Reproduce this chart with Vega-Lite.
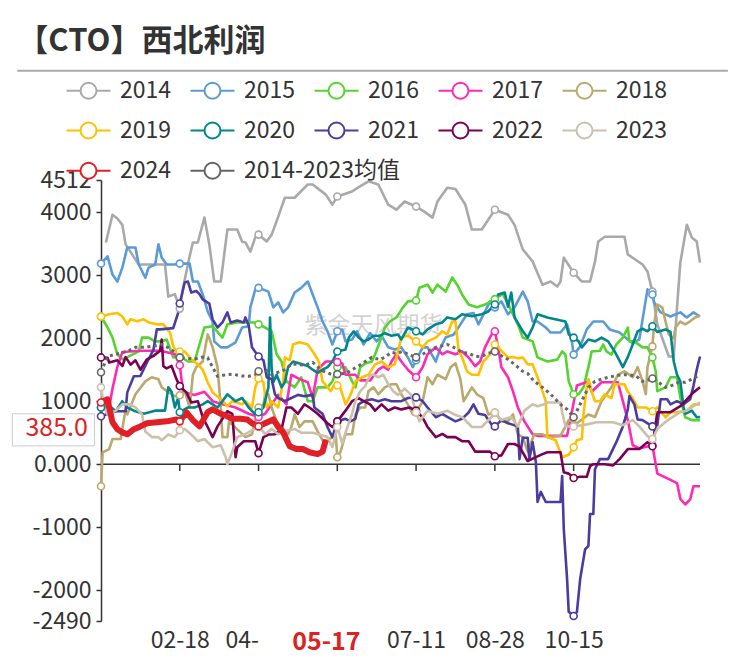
{
"$schema":"https://vega.github.io/schema/vega-lite/v6.json",
"width":599,"height":441,
"autosize":{"type":"none"},
"padding":{"left":101,"top":180,"right":46,"bottom":44},
"background":"white",
"config":{"view":{"stroke":null},"font":"Noto Sans CJK SC","axis":{"labelFont":"Noto Sans CJK SC","labelFontSize":23,"labelColor":"#333"}},
"data":{"values":[
{"s":"2014","d":3,"v":3520},{"s":"2014","d":7,"v":3960},{"s":"2014","d":10,"v":3900},{"s":"2014","d":13,"v":3800},{"s":"2014","d":15,"v":3490},{"s":"2014","d":23,"v":3170},{"s":"2014","d":39,"v":3170},{"s":"2014","d":41,"v":2660},{"s":"2014","d":45,"v":2700},{"s":"2014","d":48,"v":2470},{"s":"2014","d":50,"v":2800},{"s":"2014","d":54,"v":3300},{"s":"2014","d":56,"v":3520},{"s":"2014","d":59,"v":3520},{"s":"2014","d":63,"v":3915},{"s":"2014","d":66,"v":3490},{"s":"2014","d":69,"v":2900},{"s":"2014","d":73,"v":2900},{"s":"2014","d":77,"v":3725},{"s":"2014","d":83,"v":3725},{"s":"2014","d":86,"v":3530},{"s":"2014","d":88,"v":3520},{"s":"2014","d":91,"v":3375},{"s":"2014","d":94,"v":3600},{"s":"2014","d":96,"v":3645},{"s":"2014","d":101,"v":3535},{"s":"2014","d":104,"v":3645},{"s":"2014","d":108,"v":3930},{"s":"2014","d":112,"v":4230},{"s":"2014","d":118,"v":4230},{"s":"2014","d":126,"v":4440},{"s":"2014","d":129,"v":4440},{"s":"2014","d":137,"v":4280},{"s":"2014","d":141,"v":4120},{"s":"2014","d":144,"v":4250},{"s":"2014","d":153,"v":4330},{"s":"2014","d":157,"v":4400},{"s":"2014","d":163,"v":4490},{"s":"2014","d":169,"v":4440},{"s":"2014","d":175,"v":4120},{"s":"2014","d":180,"v":4040},{"s":"2014","d":185,"v":4170},{"s":"2014","d":192,"v":4090},{"s":"2014","d":197,"v":4010},{"s":"2014","d":202,"v":3915},{"s":"2014","d":205,"v":4170},{"s":"2014","d":211,"v":4390},{"s":"2014","d":216,"v":4370},{"s":"2014","d":222,"v":4120},{"s":"2014","d":226,"v":3725},{"s":"2014","d":232,"v":3725},{"s":"2014","d":238,"v":3960},{"s":"2014","d":240,"v":4040},{"s":"2014","d":248,"v":3960},{"s":"2014","d":252,"v":3800},{"s":"2014","d":257,"v":3410},{"s":"2014","d":263,"v":3220},{"s":"2014","d":269,"v":2850},{"s":"2014","d":274,"v":2900},{"s":"2014","d":278,"v":2820},{"s":"2014","d":280,"v":2900},{"s":"2014","d":282,"v":3280},{"s":"2014","d":288,"v":3040},{"s":"2014","d":293,"v":2900},{"s":"2014","d":298,"v":2900},{"s":"2014","d":301,"v":3215},{"s":"2014","d":303,"v":3535},{"s":"2014","d":307,"v":3610},{"s":"2014","d":319,"v":3610},{"s":"2014","d":321,"v":3330},{"s":"2014","d":330,"v":3170},{"s":"2014","d":333,"v":3060},{"s":"2014","d":336,"v":2740},{"s":"2014","d":339,"v":2220},{"s":"2014","d":346,"v":1710},{"s":"2014","d":349,"v":1710},{"s":"2014","d":351,"v":2490},{"s":"2014","d":353,"v":3200},{"s":"2014","d":357,"v":3800},{"s":"2014","d":360,"v":3600},{"s":"2014","d":363,"v":3535},{"s":"2014","d":365,"v":3200},
{"s":"2015","d":0,"v":3185},{"s":"2015","d":4,"v":3300},{"s":"2015","d":7,"v":3010},{"s":"2015","d":10,"v":2900},{"s":"2015","d":13,"v":3120},{"s":"2015","d":16,"v":3440},{"s":"2015","d":21,"v":3440},{"s":"2015","d":23,"v":3170},{"s":"2015","d":27,"v":2960},{"s":"2015","d":29,"v":3120},{"s":"2015","d":33,"v":3170},{"s":"2015","d":35,"v":3490},{"s":"2015","d":37,"v":3280},{"s":"2015","d":40,"v":3170},{"s":"2015","d":45,"v":3170},{"s":"2015","d":48,"v":3185},{"s":"2015","d":54,"v":3185},{"s":"2015","d":56,"v":2900},{"s":"2015","d":59,"v":2900},{"s":"2015","d":62,"v":2695},{"s":"2015","d":65,"v":2425},{"s":"2015","d":68,"v":2265},{"s":"2015","d":69,"v":1950},{"s":"2015","d":73,"v":1855},{"s":"2015","d":77,"v":1855},{"s":"2015","d":82,"v":1935},{"s":"2015","d":86,"v":2170},{"s":"2015","d":90,"v":2190},{"s":"2015","d":91,"v":2490},{"s":"2015","d":94,"v":2775},{"s":"2015","d":96,"v":2800},{"s":"2015","d":102,"v":2740},{"s":"2015","d":105,"v":2490},{"s":"2015","d":108,"v":2570},{"s":"2015","d":111,"v":2410},{"s":"2015","d":114,"v":2490},{"s":"2015","d":118,"v":2725},{"s":"2015","d":122,"v":2800},{"s":"2015","d":126,"v":2900},{"s":"2015","d":129,"v":2695},{"s":"2015","d":132,"v":2490},{"s":"2015","d":135,"v":2265},{"s":"2015","d":138,"v":2110},{"s":"2015","d":141,"v":1900},{"s":"2015","d":144,"v":2110},{"s":"2015","d":147,"v":2140},{"s":"2015","d":149,"v":1950},{"s":"2015","d":153,"v":1980},{"s":"2015","d":156,"v":2110},{"s":"2015","d":160,"v":1900},{"s":"2015","d":164,"v":2080},{"s":"2015","d":168,"v":1950},{"s":"2015","d":171,"v":2040},{"s":"2015","d":175,"v":1855},{"s":"2015","d":179,"v":1820},{"s":"2015","d":183,"v":1855},{"s":"2015","d":187,"v":1695},{"s":"2015","d":190,"v":1540},{"s":"2015","d":192,"v":1650},{"s":"2015","d":196,"v":1855},{"s":"2015","d":199,"v":1855},{"s":"2015","d":204,"v":1630},{"s":"2015","d":207,"v":1855},{"s":"2015","d":210,"v":2010},{"s":"2015","d":215,"v":2060},{"s":"2015","d":219,"v":2220},{"s":"2015","d":223,"v":2380},{"s":"2015","d":227,"v":2400},{"s":"2015","d":230,"v":2220},{"s":"2015","d":234,"v":2425},{"s":"2015","d":237,"v":2585},{"s":"2015","d":240,"v":2490},{"s":"2015","d":244,"v":2585},{"s":"2015","d":248,"v":2380},{"s":"2015","d":252,"v":2490},{"s":"2015","d":257,"v":2740},{"s":"2015","d":260,"v":2585},{"s":"2015","d":263,"v":2265},{"s":"2015","d":266,"v":2265},{"s":"2015","d":271,"v":2170},{"s":"2015","d":274,"v":2090},{"s":"2015","d":280,"v":2090},{"s":"2015","d":284,"v":2220},{"s":"2015","d":287,"v":1935},{"s":"2015","d":288,"v":1740},{"s":"2015","d":292,"v":1870},{"s":"2015","d":296,"v":2140},{"s":"2015","d":300,"v":2265},{"s":"2015","d":306,"v":2265},{"s":"2015","d":310,"v":2140},{"s":"2015","d":316,"v":2090},{"s":"2015","d":321,"v":1980},{"s":"2015","d":324,"v":1920},{"s":"2015","d":328,"v":1980},{"s":"2015","d":333,"v":2775},{"s":"2015","d":336,"v":2695},{"s":"2015","d":337,"v":2570},{"s":"2015","d":341,"v":2410},{"s":"2015","d":347,"v":2345},{"s":"2015","d":353,"v":2410},{"s":"2015","d":357,"v":2330},{"s":"2015","d":361,"v":2410},{"s":"2015","d":365,"v":2345},
{"s":"2016","d":0,"v":2345},{"s":"2016","d":4,"v":2170},{"s":"2016","d":7,"v":2010},{"s":"2016","d":10,"v":1745},{"s":"2016","d":13,"v":1665},{"s":"2016","d":16,"v":1700},{"s":"2016","d":23,"v":1790},{"s":"2016","d":25,"v":2010},{"s":"2016","d":29,"v":2010},{"s":"2016","d":33,"v":1950},{"s":"2016","d":37,"v":1950},{"s":"2016","d":40,"v":1980},{"s":"2016","d":44,"v":1695},{"s":"2016","d":48,"v":1710},{"s":"2016","d":53,"v":1630},{"s":"2016","d":57,"v":1630},{"s":"2016","d":60,"v":1900},{"s":"2016","d":63,"v":2170},{"s":"2016","d":68,"v":2190},{"s":"2016","d":74,"v":2010},{"s":"2016","d":77,"v":2220},{"s":"2016","d":83,"v":2250},{"s":"2016","d":90,"v":2250},{"s":"2016","d":94,"v":2250},{"s":"2016","d":96,"v":2220},{"s":"2016","d":100,"v":2170},{"s":"2016","d":104,"v":2110},{"s":"2016","d":107,"v":1745},{"s":"2016","d":110,"v":1630},{"s":"2016","d":113,"v":1315},{"s":"2016","d":118,"v":1220},{"s":"2016","d":122,"v":1380},{"s":"2016","d":126,"v":1000},{"s":"2016","d":129,"v":1000},{"s":"2016","d":132,"v":1220},{"s":"2016","d":138,"v":1220},{"s":"2016","d":141,"v":1315},{"s":"2016","d":144,"v":1540},{"s":"2016","d":149,"v":1540},{"s":"2016","d":153,"v":1315},{"s":"2016","d":155,"v":1220},{"s":"2016","d":158,"v":1540},{"s":"2016","d":161,"v":1600},{"s":"2016","d":165,"v":1630},{"s":"2016","d":167,"v":1745},{"s":"2016","d":170,"v":1950},{"s":"2016","d":173,"v":2170},{"s":"2016","d":176,"v":2265},{"s":"2016","d":180,"v":2330},{"s":"2016","d":184,"v":2490},{"s":"2016","d":187,"v":2585},{"s":"2016","d":192,"v":2600},{"s":"2016","d":194,"v":2800},{"s":"2016","d":199,"v":2850},{"s":"2016","d":202,"v":2725},{"s":"2016","d":205,"v":2850},{"s":"2016","d":210,"v":2740},{"s":"2016","d":214,"v":2965},{"s":"2016","d":217,"v":2850},{"s":"2016","d":220,"v":2695},{"s":"2016","d":224,"v":2535},{"s":"2016","d":229,"v":2490},{"s":"2016","d":234,"v":2535},{"s":"2016","d":238,"v":2585},{"s":"2016","d":240,"v":2620},{"s":"2016","d":242,"v":2660},{"s":"2016","d":245,"v":2695},{"s":"2016","d":249,"v":2490},{"s":"2016","d":254,"v":2220},{"s":"2016","d":257,"v":2010},{"s":"2016","d":263,"v":1950},{"s":"2016","d":266,"v":1695},{"s":"2016","d":272,"v":1630},{"s":"2016","d":278,"v":1660},{"s":"2016","d":281,"v":1790},{"s":"2016","d":283,"v":1740},{"s":"2016","d":285,"v":1315},{"s":"2016","d":288,"v":1110},{"s":"2016","d":291,"v":1110},{"s":"2016","d":294,"v":1220},{"s":"2016","d":297,"v":1540},{"s":"2016","d":299,"v":1790},{"s":"2016","d":304,"v":1800},{"s":"2016","d":306,"v":1900},{"s":"2016","d":308,"v":1790},{"s":"2016","d":311,"v":1740},{"s":"2016","d":314,"v":1900},{"s":"2016","d":318,"v":2010},{"s":"2016","d":321,"v":2170},{"s":"2016","d":322,"v":1950},{"s":"2016","d":325,"v":1950},{"s":"2016","d":330,"v":1855},{"s":"2016","d":333,"v":1855},{"s":"2016","d":336,"v":1695},{"s":"2016","d":338,"v":1475},{"s":"2016","d":339,"v":1160},{"s":"2016","d":344,"v":1220},{"s":"2016","d":347,"v":1380},{"s":"2016","d":351,"v":1380},{"s":"2016","d":353,"v":1060},{"s":"2016","d":356,"v":745},{"s":"2016","d":360,"v":700},{"s":"2016","d":365,"v":700},
{"s":"2017","d":0,"v":900},{"s":"2017","d":5,"v":900},{"s":"2017","d":7,"v":1200},{"s":"2017","d":10,"v":1550},{"s":"2017","d":13,"v":1780},{"s":"2017","d":24,"v":1800},{"s":"2017","d":36,"v":1800},{"s":"2017","d":45,"v":1750},{"s":"2017","d":48,"v":1570},{"s":"2017","d":50,"v":1150},{"s":"2017","d":57,"v":1100},{"s":"2017","d":63,"v":1150},{"s":"2017","d":68,"v":1000},{"s":"2017","d":74,"v":950},{"s":"2017","d":82,"v":900},{"s":"2017","d":90,"v":800},{"s":"2017","d":96,"v":750},{"s":"2017","d":100,"v":800},{"s":"2017","d":104,"v":950},{"s":"2017","d":108,"v":1100},{"s":"2017","d":113,"v":950},{"s":"2017","d":116,"v":1420},{"s":"2017","d":121,"v":1350},{"s":"2017","d":126,"v":1300},{"s":"2017","d":129,"v":1050},{"s":"2017","d":132,"v":1500},{"s":"2017","d":137,"v":1630},{"s":"2017","d":141,"v":1630},{"s":"2017","d":144,"v":1620},{"s":"2017","d":147,"v":1600},{"s":"2017","d":149,"v":1420},{"s":"2017","d":155,"v":1420},{"s":"2017","d":158,"v":1330},{"s":"2017","d":164,"v":1330},{"s":"2017","d":169,"v":1500},{"s":"2017","d":172,"v":1550},{"s":"2017","d":175,"v":1500},{"s":"2017","d":177,"v":1630},{"s":"2017","d":180,"v":1745},{"s":"2017","d":183,"v":1630},{"s":"2017","d":187,"v":1500},{"s":"2017","d":192,"v":1380},{"s":"2017","d":196,"v":1540},{"s":"2017","d":199,"v":1745},{"s":"2017","d":204,"v":1855},{"s":"2017","d":208,"v":1745},{"s":"2017","d":211,"v":1790},{"s":"2017","d":216,"v":1745},{"s":"2017","d":220,"v":1790},{"s":"2017","d":224,"v":1695},{"s":"2017","d":228,"v":1555},{"s":"2017","d":231,"v":1630},{"s":"2017","d":234,"v":1855},{"s":"2017","d":238,"v":2060},{"s":"2017","d":240,"v":2110},{"s":"2017","d":242,"v":1855},{"s":"2017","d":244,"v":1540},{"s":"2017","d":248,"v":1380},{"s":"2017","d":251,"v":1160},{"s":"2017","d":254,"v":900},{"s":"2017","d":258,"v":680},{"s":"2017","d":263,"v":475},{"s":"2017","d":266,"v":450},{"s":"2017","d":284,"v":450},{"s":"2017","d":286,"v":700},{"s":"2017","d":290,"v":1250},{"s":"2017","d":297,"v":1315},{"s":"2017","d":299,"v":1150},{"s":"2017","d":305,"v":1300},{"s":"2017","d":315,"v":1300},{"s":"2017","d":318,"v":1000},{"s":"2017","d":321,"v":700},{"s":"2017","d":324,"v":300},{"s":"2017","d":328,"v":250},{"s":"2017","d":336,"v":300},{"s":"2017","d":339,"v":-150},{"s":"2017","d":347,"v":-250},{"s":"2017","d":351,"v":-300},{"s":"2017","d":353,"v":-550},{"s":"2017","d":356,"v":-640},{"s":"2017","d":359,"v":-560},{"s":"2017","d":361,"v":-350},{"s":"2017","d":365,"v":-350},
{"s":"2018","d":0,"v":-350},{"s":"2018","d":1,"v":190},{"s":"2018","d":5,"v":240},{"s":"2018","d":7,"v":400},{"s":"2018","d":12,"v":400},{"s":"2018","d":15,"v":870},{"s":"2018","d":16,"v":790},{"s":"2018","d":21,"v":1110},{"s":"2018","d":27,"v":1315},{"s":"2018","d":31,"v":1380},{"s":"2018","d":35,"v":1350},{"s":"2018","d":37,"v":1220},{"s":"2018","d":43,"v":1110},{"s":"2018","d":45,"v":1080},{"s":"2018","d":48,"v":1095},{"s":"2018","d":51,"v":1160},{"s":"2018","d":54,"v":900},{"s":"2018","d":56,"v":1420},{"s":"2018","d":58,"v":1540},{"s":"2018","d":62,"v":1630},{"s":"2018","d":65,"v":2060},{"s":"2018","d":66,"v":2000},{"s":"2018","d":68,"v":1855},{"s":"2018","d":71,"v":1540},{"s":"2018","d":73,"v":900},{"s":"2018","d":74,"v":430},{"s":"2018","d":77,"v":430},{"s":"2018","d":78,"v":680},{"s":"2018","d":88,"v":430},{"s":"2018","d":92,"v":475},{"s":"2018","d":96,"v":900},{"s":"2018","d":99,"v":950},{"s":"2018","d":100,"v":1110},{"s":"2018","d":102,"v":1110},{"s":"2018","d":104,"v":900},{"s":"2018","d":107,"v":680},{"s":"2018","d":110,"v":590},{"s":"2018","d":114,"v":475},{"s":"2018","d":116,"v":590},{"s":"2018","d":118,"v":790},{"s":"2018","d":121,"v":590},{"s":"2018","d":124,"v":680},{"s":"2018","d":129,"v":680},{"s":"2018","d":132,"v":520},{"s":"2018","d":135,"v":380},{"s":"2018","d":138,"v":380},{"s":"2018","d":141,"v":430},{"s":"2018","d":143,"v":475},{"s":"2018","d":144,"v":110},{"s":"2018","d":146,"v":200},{"s":"2018","d":149,"v":475},{"s":"2018","d":153,"v":475},{"s":"2018","d":155,"v":790},{"s":"2018","d":158,"v":900},{"s":"2018","d":161,"v":900},{"s":"2018","d":163,"v":1160},{"s":"2018","d":166,"v":1220},{"s":"2018","d":169,"v":1110},{"s":"2018","d":173,"v":1220},{"s":"2018","d":177,"v":1270},{"s":"2018","d":180,"v":1270},{"s":"2018","d":183,"v":1110},{"s":"2018","d":187,"v":950},{"s":"2018","d":190,"v":790},{"s":"2018","d":192,"v":820},{"s":"2018","d":196,"v":1000},{"s":"2018","d":199,"v":1380},{"s":"2018","d":202,"v":1270},{"s":"2018","d":205,"v":1420},{"s":"2018","d":210,"v":1350},{"s":"2018","d":213,"v":1540},{"s":"2018","d":216,"v":1600},{"s":"2018","d":219,"v":1350},{"s":"2018","d":221,"v":1000},{"s":"2018","d":226,"v":1220},{"s":"2018","d":229,"v":1110},{"s":"2018","d":233,"v":1050},{"s":"2018","d":236,"v":790},{"s":"2018","d":240,"v":820},{"s":"2018","d":244,"v":680},{"s":"2018","d":248,"v":680},{"s":"2018","d":251,"v":790},{"s":"2018","d":254,"v":475},{"s":"2018","d":257,"v":430},{"s":"2018","d":260,"v":200},{"s":"2018","d":264,"v":475},{"s":"2018","d":269,"v":475},{"s":"2018","d":272,"v":430},{"s":"2018","d":280,"v":450},{"s":"2018","d":285,"v":700},{"s":"2018","d":290,"v":650},{"s":"2018","d":297,"v":790},{"s":"2018","d":301,"v":750},{"s":"2018","d":305,"v":1000},{"s":"2018","d":311,"v":1220},{"s":"2018","d":315,"v":1420},{"s":"2018","d":319,"v":1475},{"s":"2018","d":324,"v":1380},{"s":"2018","d":327,"v":1540},{"s":"2018","d":330,"v":1315},{"s":"2018","d":332,"v":1110},{"s":"2018","d":333,"v":1540},{"s":"2018","d":336,"v":1870},{"s":"2018","d":337,"v":2220},{"s":"2018","d":339,"v":2535},{"s":"2018","d":342,"v":2490},{"s":"2018","d":344,"v":2265},{"s":"2018","d":346,"v":2060},{"s":"2018","d":349,"v":2000},{"s":"2018","d":350,"v":2170},{"s":"2018","d":353,"v":2265},{"s":"2018","d":356,"v":2220},{"s":"2018","d":358,"v":2250},{"s":"2018","d":362,"v":2330},{"s":"2018","d":365,"v":2360},
{"s":"2019","d":0,"v":2345},{"s":"2019","d":5,"v":2380},{"s":"2019","d":10,"v":2400},{"s":"2019","d":13,"v":2345},{"s":"2019","d":16,"v":2220},{"s":"2019","d":18,"v":2300},{"s":"2019","d":22,"v":2270},{"s":"2019","d":26,"v":2300},{"s":"2019","d":29,"v":2250},{"s":"2019","d":34,"v":2220},{"s":"2019","d":38,"v":2220},{"s":"2019","d":42,"v":2090},{"s":"2019","d":44,"v":1870},{"s":"2019","d":46,"v":1790},{"s":"2019","d":48,"v":1790},{"s":"2019","d":51,"v":1790},{"s":"2019","d":55,"v":1665},{"s":"2019","d":59,"v":1585},{"s":"2019","d":62,"v":1500},{"s":"2019","d":65,"v":1300},{"s":"2019","d":68,"v":1140},{"s":"2019","d":73,"v":1030},{"s":"2019","d":77,"v":920},{"s":"2019","d":80,"v":1000},{"s":"2019","d":86,"v":950},{"s":"2019","d":88,"v":1000},{"s":"2019","d":92,"v":900},{"s":"2019","d":94,"v":1220},{"s":"2019","d":96,"v":1360},{"s":"2019","d":99,"v":1300},{"s":"2019","d":101,"v":900},{"s":"2019","d":104,"v":1000},{"s":"2019","d":108,"v":900},{"s":"2019","d":111,"v":1315},{"s":"2019","d":112,"v":1695},{"s":"2019","d":115,"v":1650},{"s":"2019","d":117,"v":1900},{"s":"2019","d":121,"v":1935},{"s":"2019","d":126,"v":1900},{"s":"2019","d":129,"v":1790},{"s":"2019","d":132,"v":1665},{"s":"2019","d":133,"v":1600},{"s":"2019","d":135,"v":1315},{"s":"2019","d":140,"v":1160},{"s":"2019","d":143,"v":1300},{"s":"2019","d":144,"v":1250},{"s":"2019","d":146,"v":1200},{"s":"2019","d":149,"v":950},{"s":"2019","d":152,"v":1100},{"s":"2019","d":155,"v":1315},{"s":"2019","d":159,"v":1380},{"s":"2019","d":163,"v":1420},{"s":"2019","d":167,"v":1585},{"s":"2019","d":171,"v":1630},{"s":"2019","d":175,"v":1540},{"s":"2019","d":179,"v":1585},{"s":"2019","d":183,"v":2010},{"s":"2019","d":187,"v":2040},{"s":"2019","d":192,"v":1950},{"s":"2019","d":196,"v":1855},{"s":"2019","d":199,"v":1950},{"s":"2019","d":204,"v":2010},{"s":"2019","d":208,"v":2110},{"s":"2019","d":211,"v":2060},{"s":"2019","d":214,"v":2265},{"s":"2019","d":216,"v":2265},{"s":"2019","d":218,"v":1790},{"s":"2019","d":220,"v":1700},{"s":"2019","d":223,"v":1475},{"s":"2019","d":226,"v":1420},{"s":"2019","d":230,"v":1420},{"s":"2019","d":233,"v":1630},{"s":"2019","d":237,"v":1745},{"s":"2019","d":240,"v":1900},{"s":"2019","d":244,"v":1800},{"s":"2019","d":248,"v":1695},{"s":"2019","d":251,"v":1700},{"s":"2019","d":254,"v":1680},{"s":"2019","d":257,"v":1695},{"s":"2019","d":260,"v":1585},{"s":"2019","d":263,"v":1585},{"s":"2019","d":266,"v":1380},{"s":"2019","d":269,"v":1160},{"s":"2019","d":271,"v":1000},{"s":"2019","d":272,"v":430},{"s":"2019","d":277,"v":380},{"s":"2019","d":281,"v":110},{"s":"2019","d":285,"v":150},{"s":"2019","d":288,"v":270},{"s":"2019","d":290,"v":380},{"s":"2019","d":293,"v":400},{"s":"2019","d":294,"v":790},{"s":"2019","d":296,"v":1220},{"s":"2019","d":297,"v":1350},{"s":"2019","d":299,"v":1150},{"s":"2019","d":301,"v":1000},{"s":"2019","d":304,"v":1000},{"s":"2019","d":307,"v":1110},{"s":"2019","d":311,"v":1050},{"s":"2019","d":313,"v":1270},{"s":"2019","d":319,"v":1270},{"s":"2019","d":321,"v":1150},{"s":"2019","d":324,"v":1050},{"s":"2019","d":327,"v":900},{"s":"2019","d":332,"v":900},{"s":"2019","d":336,"v":840},{"s":"2019","d":339,"v":900},{"s":"2019","d":344,"v":745},{"s":"2019","d":347,"v":825},{"s":"2019","d":351,"v":825},{"s":"2019","d":357,"v":850},{"s":"2019","d":361,"v":950},{"s":"2019","d":365,"v":950},
{"s":"2020","d":0,"v":900},{"s":"2020","d":4,"v":950},{"s":"2020","d":9,"v":840},{"s":"2020","d":13,"v":1000},{"s":"2020","d":16,"v":900},{"s":"2020","d":20,"v":850},{"s":"2020","d":26,"v":800},{"s":"2020","d":33,"v":850},{"s":"2020","d":39,"v":850},{"s":"2020","d":41,"v":1220},{"s":"2020","d":43,"v":1150},{"s":"2020","d":45,"v":900},{"s":"2020","d":47,"v":1050},{"s":"2020","d":48,"v":825},{"s":"2020","d":53,"v":900},{"s":"2020","d":57,"v":900},{"s":"2020","d":62,"v":950},{"s":"2020","d":65,"v":1000},{"s":"2020","d":71,"v":900},{"s":"2020","d":74,"v":1000},{"s":"2020","d":77,"v":1110},{"s":"2020","d":82,"v":1000},{"s":"2020","d":86,"v":1050},{"s":"2020","d":90,"v":900},{"s":"2020","d":94,"v":790},{"s":"2020","d":96,"v":825},{"s":"2020","d":99,"v":900},{"s":"2020","d":102,"v":1220},{"s":"2020","d":103,"v":2330},{"s":"2020","d":104,"v":1500},{"s":"2020","d":105,"v":1300},{"s":"2020","d":107,"v":1420},{"s":"2020","d":110,"v":1220},{"s":"2020","d":112,"v":1300},{"s":"2020","d":114,"v":1540},{"s":"2020","d":117,"v":1630},{"s":"2020","d":121,"v":1600},{"s":"2020","d":126,"v":1560},{"s":"2020","d":129,"v":1500},{"s":"2020","d":132,"v":1450},{"s":"2020","d":135,"v":1500},{"s":"2020","d":138,"v":1540},{"s":"2020","d":141,"v":1630},{"s":"2020","d":144,"v":1790},{"s":"2020","d":149,"v":1820},{"s":"2020","d":151,"v":2010},{"s":"2020","d":154,"v":2110},{"s":"2020","d":157,"v":2010},{"s":"2020","d":160,"v":1950},{"s":"2020","d":163,"v":1980},{"s":"2020","d":166,"v":2040},{"s":"2020","d":170,"v":2040},{"s":"2020","d":173,"v":2080},{"s":"2020","d":177,"v":2040},{"s":"2020","d":181,"v":2060},{"s":"2020","d":183,"v":1980},{"s":"2020","d":187,"v":2170},{"s":"2020","d":192,"v":2110},{"s":"2020","d":196,"v":2060},{"s":"2020","d":199,"v":2140},{"s":"2020","d":204,"v":2220},{"s":"2020","d":208,"v":2250},{"s":"2020","d":211,"v":2330},{"s":"2020","d":216,"v":2300},{"s":"2020","d":220,"v":2380},{"s":"2020","d":226,"v":2350},{"s":"2020","d":232,"v":2380},{"s":"2020","d":236,"v":2425},{"s":"2020","d":240,"v":2535},{"s":"2020","d":242,"v":2695},{"s":"2020","d":246,"v":2725},{"s":"2020","d":248,"v":2500},{"s":"2020","d":250,"v":2725},{"s":"2020","d":252,"v":2330},{"s":"2020","d":257,"v":2110},{"s":"2020","d":260,"v":2010},{"s":"2020","d":263,"v":2170},{"s":"2020","d":266,"v":2380},{"s":"2020","d":272,"v":2330},{"s":"2020","d":283,"v":2265},{"s":"2020","d":285,"v":2060},{"s":"2020","d":288,"v":2010},{"s":"2020","d":291,"v":1950},{"s":"2020","d":293,"v":1855},{"s":"2020","d":297,"v":1980},{"s":"2020","d":301,"v":1950},{"s":"2020","d":305,"v":2010},{"s":"2020","d":309,"v":1950},{"s":"2020","d":313,"v":1790},{"s":"2020","d":318,"v":1540},{"s":"2020","d":321,"v":1700},{"s":"2020","d":324,"v":1900},{"s":"2020","d":327,"v":2110},{"s":"2020","d":330,"v":2150},{"s":"2020","d":333,"v":2110},{"s":"2020","d":336,"v":2190},{"s":"2020","d":339,"v":2100},{"s":"2020","d":344,"v":2140},{"s":"2020","d":347,"v":2100},{"s":"2020","d":349,"v":1630},{"s":"2020","d":351,"v":1420},{"s":"2020","d":353,"v":1315},{"s":"2020","d":355,"v":900},{"s":"2020","d":356,"v":800},{"s":"2020","d":360,"v":850},{"s":"2020","d":363,"v":745},{"s":"2020","d":365,"v":750},
{"s":"2021","d":0,"v":760},{"s":"2021","d":9,"v":840},{"s":"2021","d":15,"v":840},{"s":"2021","d":16,"v":1140},{"s":"2021","d":20,"v":1395},{"s":"2021","d":24,"v":1400},{"s":"2021","d":28,"v":1615},{"s":"2021","d":32,"v":1820},{"s":"2021","d":34,"v":2140},{"s":"2021","d":36,"v":2140},{"s":"2021","d":44,"v":2160},{"s":"2021","d":47,"v":2400},{"s":"2021","d":48,"v":2550},{"s":"2021","d":51,"v":2885},{"s":"2021","d":53,"v":2900},{"s":"2021","d":55,"v":2725},{"s":"2021","d":58,"v":2750},{"s":"2021","d":60,"v":2700},{"s":"2021","d":62,"v":2615},{"s":"2021","d":66,"v":2550},{"s":"2021","d":68,"v":2300},{"s":"2021","d":71,"v":2170},{"s":"2021","d":74,"v":2250},{"s":"2021","d":77,"v":2410},{"s":"2021","d":79,"v":2250},{"s":"2021","d":83,"v":2280},{"s":"2021","d":87,"v":2250},{"s":"2021","d":88,"v":2330},{"s":"2021","d":90,"v":2200},{"s":"2021","d":92,"v":1855},{"s":"2021","d":96,"v":1710},{"s":"2021","d":99,"v":1650},{"s":"2021","d":101,"v":1380},{"s":"2021","d":104,"v":1350},{"s":"2021","d":106,"v":1110},{"s":"2021","d":108,"v":1050},{"s":"2021","d":112,"v":1000},{"s":"2021","d":116,"v":1050},{"s":"2021","d":120,"v":1100},{"s":"2021","d":124,"v":1080},{"s":"2021","d":129,"v":1100},{"s":"2021","d":130,"v":900},{"s":"2021","d":135,"v":800},{"s":"2021","d":138,"v":590},{"s":"2021","d":141,"v":430},{"s":"2021","d":144,"v":680},{"s":"2021","d":149,"v":720},{"s":"2021","d":152,"v":680},{"s":"2021","d":155,"v":720},{"s":"2021","d":157,"v":950},{"s":"2021","d":160,"v":1000},{"s":"2021","d":165,"v":1030},{"s":"2021","d":169,"v":1000},{"s":"2021","d":173,"v":1030},{"s":"2021","d":177,"v":1000},{"s":"2021","d":183,"v":1000},{"s":"2021","d":187,"v":1050},{"s":"2021","d":192,"v":1060},{"s":"2021","d":196,"v":1000},{"s":"2021","d":199,"v":900},{"s":"2021","d":204,"v":745},{"s":"2021","d":208,"v":800},{"s":"2021","d":211,"v":750},{"s":"2021","d":216,"v":680},{"s":"2021","d":220,"v":720},{"s":"2021","d":224,"v":820},{"s":"2021","d":227,"v":950},{"s":"2021","d":230,"v":800},{"s":"2021","d":234,"v":780},{"s":"2021","d":238,"v":630},{"s":"2021","d":240,"v":600},{"s":"2021","d":244,"v":700},{"s":"2021","d":248,"v":650},{"s":"2021","d":254,"v":600},{"s":"2021","d":255,"v":80},{"s":"2021","d":257,"v":420},{"s":"2021","d":260,"v":420},{"s":"2021","d":261,"v":80},{"s":"2021","d":263,"v":350},{"s":"2021","d":265,"v":30},{"s":"2021","d":266,"v":-600},{"s":"2021","d":268,"v":-440},{"s":"2021","d":271,"v":-600},{"s":"2021","d":280,"v":-600},{"s":"2021","d":281,"v":-190},{"s":"2021","d":282,"v":-1030},{"s":"2021","d":284,"v":-1820},{"s":"2021","d":285,"v":-2345},{"s":"2021","d":288,"v":-2410},{"s":"2021","d":290,"v":-2345},{"s":"2021","d":292,"v":-1820},{"s":"2021","d":295,"v":-1350},{"s":"2021","d":297,"v":-1300},{"s":"2021","d":298,"v":-790},{"s":"2021","d":300,"v":-790},{"s":"2021","d":301,"v":-80},{"s":"2021","d":304,"v":80},{"s":"2021","d":309,"v":80},{"s":"2021","d":314,"v":350},{"s":"2021","d":318,"v":600},{"s":"2021","d":321,"v":870},{"s":"2021","d":322,"v":1080},{"s":"2021","d":325,"v":950},{"s":"2021","d":327,"v":710},{"s":"2021","d":330,"v":700},{"s":"2021","d":336,"v":600},{"s":"2021","d":339,"v":620},{"s":"2021","d":341,"v":1030},{"s":"2021","d":345,"v":1030},{"s":"2021","d":347,"v":950},{"s":"2021","d":351,"v":1000},{"s":"2021","d":355,"v":950},{"s":"2021","d":359,"v":1030},{"s":"2021","d":361,"v":1240},{"s":"2021","d":363,"v":1500},{"s":"2021","d":365,"v":1710},
{"s":"2022","d":0,"v":1695},{"s":"2022","d":4,"v":1690},{"s":"2022","d":5,"v":1615},{"s":"2022","d":10,"v":1650},{"s":"2022","d":13,"v":1560},{"s":"2022","d":15,"v":1700},{"s":"2022","d":18,"v":1580},{"s":"2022","d":21,"v":1650},{"s":"2022","d":24,"v":1500},{"s":"2022","d":28,"v":1665},{"s":"2022","d":32,"v":1720},{"s":"2022","d":36,"v":1800},{"s":"2022","d":37,"v":1980},{"s":"2022","d":38,"v":1555},{"s":"2022","d":40,"v":1520},{"s":"2022","d":43,"v":1560},{"s":"2022","d":46,"v":1350},{"s":"2022","d":48,"v":1240},{"s":"2022","d":52,"v":1140},{"s":"2022","d":55,"v":980},{"s":"2022","d":59,"v":1000},{"s":"2022","d":62,"v":745},{"s":"2022","d":65,"v":590},{"s":"2022","d":68,"v":430},{"s":"2022","d":71,"v":600},{"s":"2022","d":77,"v":840},{"s":"2022","d":80,"v":800},{"s":"2022","d":82,"v":110},{"s":"2022","d":83,"v":270},{"s":"2022","d":87,"v":365},{"s":"2022","d":94,"v":365},{"s":"2022","d":96,"v":175},{"s":"2022","d":99,"v":430},{"s":"2022","d":102,"v":470},{"s":"2022","d":106,"v":475},{"s":"2022","d":110,"v":550},{"s":"2022","d":113,"v":900},{"s":"2022","d":116,"v":900},{"s":"2022","d":120,"v":800},{"s":"2022","d":124,"v":950},{"s":"2022","d":127,"v":900},{"s":"2022","d":132,"v":800},{"s":"2022","d":138,"v":650},{"s":"2022","d":141,"v":590},{"s":"2022","d":144,"v":680},{"s":"2022","d":149,"v":850},{"s":"2022","d":153,"v":1000},{"s":"2022","d":157,"v":1050},{"s":"2022","d":160,"v":1000},{"s":"2022","d":164,"v":950},{"s":"2022","d":167,"v":850},{"s":"2022","d":171,"v":950},{"s":"2022","d":175,"v":850},{"s":"2022","d":179,"v":900},{"s":"2022","d":183,"v":870},{"s":"2022","d":188,"v":900},{"s":"2022","d":192,"v":850},{"s":"2022","d":196,"v":740},{"s":"2022","d":199,"v":590},{"s":"2022","d":204,"v":430},{"s":"2022","d":208,"v":480},{"s":"2022","d":211,"v":430},{"s":"2022","d":216,"v":430},{"s":"2022","d":220,"v":365},{"s":"2022","d":224,"v":365},{"s":"2022","d":228,"v":200},{"s":"2022","d":237,"v":200},{"s":"2022","d":240,"v":125},{"s":"2022","d":244,"v":140},{"s":"2022","d":248,"v":320},{"s":"2022","d":252,"v":320},{"s":"2022","d":255,"v":280},{"s":"2022","d":260,"v":50},{"s":"2022","d":264,"v":100},{"s":"2022","d":269,"v":160},{"s":"2022","d":272,"v":190},{"s":"2022","d":280,"v":190},{"s":"2022","d":282,"v":-130},{"s":"2022","d":285,"v":-150},{"s":"2022","d":288,"v":-220},{"s":"2022","d":292,"v":-200},{"s":"2022","d":296,"v":-200},{"s":"2022","d":298,"v":-30},{"s":"2022","d":300,"v":0},{"s":"2022","d":307,"v":0},{"s":"2022","d":312,"v":-20},{"s":"2022","d":316,"v":80},{"s":"2022","d":321,"v":240},{"s":"2022","d":328,"v":240},{"s":"2022","d":333,"v":350},{"s":"2022","d":336,"v":285},{"s":"2022","d":339,"v":825},{"s":"2022","d":347,"v":825},{"s":"2022","d":353,"v":920},{"s":"2022","d":357,"v":1030},{"s":"2022","d":361,"v":1140},{"s":"2022","d":365,"v":1220},
{"s":"2023","d":0,"v":1220},{"s":"2023","d":2,"v":900},{"s":"2023","d":4,"v":790},{"s":"2023","d":9,"v":850},{"s":"2023","d":13,"v":950},{"s":"2023","d":18,"v":950},{"s":"2023","d":21,"v":900},{"s":"2023","d":25,"v":790},{"s":"2023","d":27,"v":520},{"s":"2023","d":31,"v":430},{"s":"2023","d":35,"v":430},{"s":"2023","d":37,"v":380},{"s":"2023","d":41,"v":470},{"s":"2023","d":45,"v":430},{"s":"2023","d":48,"v":540},{"s":"2023","d":51,"v":560},{"s":"2023","d":55,"v":470},{"s":"2023","d":59,"v":365},{"s":"2023","d":63,"v":400},{"s":"2023","d":68,"v":270},{"s":"2023","d":73,"v":300},{"s":"2023","d":76,"v":110},{"s":"2023","d":77,"v":0},{"s":"2023","d":80,"v":200},{"s":"2023","d":83,"v":430},{"s":"2023","d":88,"v":480},{"s":"2023","d":94,"v":560},{"s":"2023","d":96,"v":600},{"s":"2023","d":100,"v":480},{"s":"2023","d":104,"v":560},{"s":"2023","d":108,"v":475},{"s":"2023","d":113,"v":530},{"s":"2023","d":118,"v":560},{"s":"2023","d":122,"v":500},{"s":"2023","d":129,"v":500},{"s":"2023","d":133,"v":470},{"s":"2023","d":138,"v":430},{"s":"2023","d":141,"v":270},{"s":"2023","d":144,"v":590},{"s":"2023","d":147,"v":330},{"s":"2023","d":149,"v":500},{"s":"2023","d":153,"v":800},{"s":"2023","d":155,"v":1000},{"s":"2023","d":158,"v":1160},{"s":"2023","d":161,"v":1240},{"s":"2023","d":164,"v":1420},{"s":"2023","d":166,"v":1420},{"s":"2023","d":169,"v":1380},{"s":"2023","d":172,"v":1420},{"s":"2023","d":175,"v":1270},{"s":"2023","d":178,"v":1160},{"s":"2023","d":181,"v":1100},{"s":"2023","d":185,"v":1200},{"s":"2023","d":189,"v":1100},{"s":"2023","d":192,"v":825},{"s":"2023","d":194,"v":680},{"s":"2023","d":199,"v":850},{"s":"2023","d":205,"v":800},{"s":"2023","d":211,"v":850},{"s":"2023","d":216,"v":780},{"s":"2023","d":220,"v":750},{"s":"2023","d":226,"v":590},{"s":"2023","d":232,"v":590},{"s":"2023","d":238,"v":750},{"s":"2023","d":240,"v":820},{"s":"2023","d":244,"v":700},{"s":"2023","d":250,"v":750},{"s":"2023","d":254,"v":600},{"s":"2023","d":258,"v":850},{"s":"2023","d":263,"v":950},{"s":"2023","d":266,"v":920},{"s":"2023","d":270,"v":950},{"s":"2023","d":272,"v":980},{"s":"2023","d":280,"v":980},{"s":"2023","d":281,"v":825},{"s":"2023","d":283,"v":600},{"s":"2023","d":288,"v":600},{"s":"2023","d":294,"v":620},{"s":"2023","d":302,"v":665},{"s":"2023","d":312,"v":665},{"s":"2023","d":318,"v":620},{"s":"2023","d":324,"v":700},{"s":"2023","d":328,"v":600},{"s":"2023","d":333,"v":445},{"s":"2023","d":336,"v":400},{"s":"2023","d":339,"v":560},{"s":"2023","d":343,"v":650},{"s":"2023","d":346,"v":710},{"s":"2023","d":349,"v":760},{"s":"2023","d":353,"v":825},{"s":"2023","d":357,"v":850},{"s":"2023","d":361,"v":920},{"s":"2023","d":365,"v":980},
{"s":"2024","d":0,"v":980},{"s":"2024","d":4,"v":1030},{"s":"2024","d":5,"v":900},{"s":"2024","d":7,"v":665},{"s":"2024","d":10,"v":555},{"s":"2024","d":13,"v":505},{"s":"2024","d":16,"v":475},{"s":"2024","d":20,"v":555},{"s":"2024","d":24,"v":600},{"s":"2024","d":28,"v":650},{"s":"2024","d":34,"v":665},{"s":"2024","d":40,"v":680},{"s":"2024","d":46,"v":710},{"s":"2024","d":48,"v":680},{"s":"2024","d":52,"v":825},{"s":"2024","d":56,"v":700},{"s":"2024","d":60,"v":600},{"s":"2024","d":65,"v":825},{"s":"2024","d":68,"v":870},{"s":"2024","d":73,"v":800},{"s":"2024","d":77,"v":760},{"s":"2024","d":80,"v":720},{"s":"2024","d":85,"v":720},{"s":"2024","d":89,"v":710},{"s":"2024","d":92,"v":650},{"s":"2024","d":96,"v":600},{"s":"2024","d":100,"v":650},{"s":"2024","d":105,"v":710},{"s":"2024","d":108,"v":590},{"s":"2024","d":111,"v":505},{"s":"2024","d":115,"v":285},{"s":"2024","d":119,"v":240},{"s":"2024","d":123,"v":240},{"s":"2024","d":127,"v":190},{"s":"2024","d":132,"v":160},{"s":"2024","d":135,"v":200},{"s":"2024","d":137,"v":385},
{"s":"2014-2023均值","d":0,"v":1460},{"s":"2014-2023均值","d":4,"v":1710},{"s":"2014-2023均值","d":9,"v":1745},{"s":"2014-2023均值","d":16,"v":1790},{"s":"2014-2023均值","d":21,"v":1855},{"s":"2014-2023均值","d":27,"v":1855},{"s":"2014-2023均值","d":33,"v":1880},{"s":"2014-2023均值","d":37,"v":1900},{"s":"2014-2023均值","d":41,"v":1850},{"s":"2014-2023均值","d":45,"v":1775},{"s":"2014-2023均值","d":48,"v":1695},{"s":"2014-2023均值","d":53,"v":1680},{"s":"2014-2023均值","d":57,"v":1670},{"s":"2014-2023均值","d":62,"v":1700},{"s":"2014-2023均值","d":65,"v":1690},{"s":"2014-2023均值","d":68,"v":1540},{"s":"2014-2023均值","d":71,"v":1395},{"s":"2014-2023均值","d":76,"v":1420},{"s":"2014-2023均值","d":80,"v":1430},{"s":"2014-2023均值","d":86,"v":1400},{"s":"2014-2023均值","d":90,"v":1395},{"s":"2014-2023均值","d":94,"v":1420},{"s":"2014-2023均值","d":96,"v":1475},{"s":"2014-2023均值","d":100,"v":1500},{"s":"2014-2023均值","d":104,"v":1420},{"s":"2014-2023均值","d":108,"v":1460},{"s":"2014-2023均值","d":112,"v":1500},{"s":"2014-2023均值","d":116,"v":1585},{"s":"2014-2023均值","d":120,"v":1585},{"s":"2014-2023均值","d":124,"v":1570},{"s":"2014-2023均值","d":129,"v":1615},{"s":"2014-2023均值","d":132,"v":1550},{"s":"2014-2023均值","d":135,"v":1480},{"s":"2014-2023均值","d":141,"v":1420},{"s":"2014-2023均值","d":144,"v":1430},{"s":"2014-2023均值","d":149,"v":1440},{"s":"2014-2023均值","d":153,"v":1500},{"s":"2014-2023均值","d":157,"v":1560},{"s":"2014-2023均值","d":161,"v":1630},{"s":"2014-2023均值","d":165,"v":1695},{"s":"2014-2023均值","d":170,"v":1660},{"s":"2014-2023均值","d":173,"v":1700},{"s":"2014-2023均值","d":177,"v":1775},{"s":"2014-2023均值","d":180,"v":1760},{"s":"2014-2023均值","d":184,"v":1790},{"s":"2014-2023均值","d":187,"v":1745},{"s":"2014-2023均值","d":192,"v":1695},{"s":"2014-2023均值","d":196,"v":1745},{"s":"2014-2023均值","d":199,"v":1790},{"s":"2014-2023均值","d":204,"v":1855},{"s":"2014-2023均值","d":208,"v":1880},{"s":"2014-2023均值","d":211,"v":1900},{"s":"2014-2023均值","d":216,"v":1840},{"s":"2014-2023均值","d":220,"v":1775},{"s":"2014-2023均值","d":224,"v":1760},{"s":"2014-2023均值","d":228,"v":1710},{"s":"2014-2023均值","d":232,"v":1710},{"s":"2014-2023均值","d":236,"v":1760},{"s":"2014-2023均值","d":240,"v":1790},{"s":"2014-2023均值","d":244,"v":1720},{"s":"2014-2023均值","d":248,"v":1665},{"s":"2014-2023均值","d":252,"v":1585},{"s":"2014-2023均值","d":257,"v":1475},{"s":"2014-2023均值","d":260,"v":1440},{"s":"2014-2023均值","d":264,"v":1315},{"s":"2014-2023均值","d":269,"v":1220},{"s":"2014-2023均值","d":274,"v":1110},{"s":"2014-2023均值","d":277,"v":1030},{"s":"2014-2023均值","d":280,"v":950},{"s":"2014-2023均值","d":284,"v":870},{"s":"2014-2023均值","d":288,"v":745},{"s":"2014-2023均值","d":291,"v":900},{"s":"2014-2023均值","d":294,"v":1060},{"s":"2014-2023均值","d":297,"v":1220},{"s":"2014-2023均值","d":301,"v":1315},{"s":"2014-2023均值","d":305,"v":1350},{"s":"2014-2023均值","d":309,"v":1380},{"s":"2014-2023均值","d":313,"v":1400},{"s":"2014-2023均值","d":318,"v":1420},{"s":"2014-2023均值","d":322,"v":1420},{"s":"2014-2023均值","d":326,"v":1400},{"s":"2014-2023均值","d":330,"v":1315},{"s":"2014-2023均值","d":333,"v":1330},{"s":"2014-2023均值","d":336,"v":1360},{"s":"2014-2023均值","d":339,"v":1315},{"s":"2014-2023均值","d":344,"v":1220},{"s":"2014-2023均值","d":348,"v":1250},{"s":"2014-2023均值","d":352,"v":1300},{"s":"2014-2023均值","d":356,"v":1300},{"s":"2014-2023均值","d":360,"v":1350},{"s":"2014-2023均值","d":365,"v":1420}
]},
"layer":[
{"data":{"values":[{}]},"mark":{"type":"text","text":"紫金天风期货","fontSize":23,"color":"#d2d2d2"},"encoding":{"x":{"datum":166,"type":"quantitative"},"y":{"datum":2190,"type":"quantitative"}}},
{"encoding":{
"x":{"field":"d","type":"quantitative","scale":{"domain":[0,365],"nice":false,"zero":false},"axis":{"title":null,"values":[48,96,137,192,240,288],"labelExpr":"datum.value==137?'05-17':datum.value==96?'04-':timeFormat(datetime(2024,0,1+datum.value),'%m-%d')","domain":false,"ticks":false,"grid":false,"labelPadding":8,"labelFlush":false,"labelOverlap":false,"labelAlign":{"condition":{"test":"datum.value==96","value":"right"},"value":"center"},"labelColor":{"condition":{"test":"datum.value==137","value":"#dd2222"},"value":"#333"},"labelFontWeight":{"condition":{"test":"datum.value==137","value":"bold"},"value":"normal"},"labelFontSize":{"condition":{"test":"datum.value==137","value":25},"value":23}}},
"y":{"field":"v","type":"quantitative","scale":{"domain":[-2490,4512],"nice":false,"zero":false},"axis":{"title":null,"values":[-2490,-2000,-1000,0,1000,2000,3000,4000,4512],"labelExpr":"datum.value==0?'0.000':''+datum.value","domainColor":"#333","domainWidth":1.5,"tickColor":"#333","tickSize":5,"tickWidth":1.5,"gridColor":"#d9d9d9","gridWidth":1.5,"labelPadding":5,"labelOverlap":false,"labelFlush":false}}
},
"layer":[
{"data":{"values":[{"d":0,"v":0},{"d":365,"v":0}]},"mark":{"type":"line","strokeWidth":1.5,"color":"#333"}},
{"data":{"values":[{"d":48,"v":0},{"d":96,"v":0},{"d":144,"v":0},{"d":192,"v":0},{"d":240,"v":0},{"d":288,"v":0}]},"mark":{"type":"rule","strokeWidth":1.5,"color":"#333"},"encoding":{"y2":{"datum":-110}}},
{"transform":[{"filter":"datum.s != '2024' && datum.s != '2014-2023均值'"}],"mark":{"type":"line","strokeWidth":2.6,"strokeJoin":"round"},"encoding":{"color":{"field":"s","type":"nominal","scale":{"domain":["2014","2015","2016","2017","2018","2019","2020","2021","2022","2023"],"range":["#a9a9a9","#5b9bd5","#55d42f","#ff2ab4","#b9a96c","#ffc000","#00868b","#4b3d9e","#7a0055","#ccc0aa"]},"legend":{"title":null,"orient":"none","legendX":-24,"legendY":-101,"direction":"horizontal","columns":5,"gridAlign":"each","columnPadding":14,"rowPadding":15,"padding":0,"symbolType":"M-2.75,0L-1,0M1,0L2.75,0M1,0A1,1,0,1,1,-1,0A1,1,0,1,1,1,0Z","symbolSize":256,"symbolStrokeWidth":2,"labelFontSize":23,"labelFont":"Noto Sans CJK SC","labelColor":"#333","labelOffset":20,"labelLimit":400,"encode":{"symbols":{"update":{"fill":{"value":"#ffffff"},"fillOpacity":{"value":1},"strokeWidth":{"value":2}}}}}}}},
{"transform":[{"filter":"datum.s == '2014-2023均值'"}],"mark":{"type":"line","strokeWidth":3,"strokeDash":[3,3.5]},"encoding":{"stroke":{"field":"s","type":"nominal","scale":{"domain":["2024","2014-2023均值"],"range":["#e01f26","#666666"]},"legend":{"title":null,"orient":"none","legendX":-24,"legendY":-21,"direction":"horizontal","columns":5,"gridAlign":"each","columnPadding":14,"rowPadding":15,"padding":0,"symbolType":"M-2.75,0L-1,0M1,0L2.75,0M1,0A1,1,0,1,1,-1,0A1,1,0,1,1,1,0Z","symbolSize":256,"symbolStrokeWidth":2,"symbolDash":[],"labelFontSize":23,"labelFont":"Noto Sans CJK SC","labelColor":"#333","labelOffset":20,"labelLimit":400,"encode":{"symbols":{"update":{"fill":{"value":"#ffffff"},"fillOpacity":{"value":1},"strokeWidth":{"value":2},"strokeDash":{"value":[]}}}}}}}},
{"transform":[{"filter":"datum.s == '2024'"}],"mark":{"type":"line","strokeWidth":6,"strokeJoin":"round"},"encoding":{"stroke":{"field":"s","type":"nominal","scale":{"domain":["2024","2014-2023均值"],"range":["#e01f26","#666666"]},"legend":{"title":null,"orient":"none","legendX":-24,"legendY":-21,"direction":"horizontal","columns":5,"gridAlign":"each","columnPadding":14,"rowPadding":15,"padding":0,"symbolType":"M-2.75,0L-1,0M1,0L2.75,0M1,0A1,1,0,1,1,-1,0A1,1,0,1,1,1,0Z","symbolSize":256,"symbolStrokeWidth":2,"symbolDash":[],"labelFontSize":23,"labelFont":"Noto Sans CJK SC","labelColor":"#333","labelOffset":20,"labelLimit":400,"encode":{"symbols":{"update":{"fill":{"value":"#ffffff"},"fillOpacity":{"value":1},"strokeWidth":{"value":2},"strokeDash":{"value":[]}}}}}}}},
{"transform":[{"filter":"datum.d % 48 == 0 && datum.s != '2024' && datum.s != '2014-2023均值'"}],"mark":{"type":"point","filled":false,"fill":"#ffffff","fillOpacity":1,"size":49,"strokeWidth":1.6,"opacity":1},"encoding":{"color":{"field":"s","type":"nominal","scale":{"domain":["2014","2015","2016","2017","2018","2019","2020","2021","2022","2023"],"range":["#a9a9a9","#5b9bd5","#55d42f","#ff2ab4","#b9a96c","#ffc000","#00868b","#4b3d9e","#7a0055","#ccc0aa"]},"legend":{"title":null,"orient":"none","legendX":-24,"legendY":-101,"direction":"horizontal","columns":5,"gridAlign":"each","columnPadding":14,"rowPadding":15,"padding":0,"symbolType":"M-2.75,0L-1,0M1,0L2.75,0M1,0A1,1,0,1,1,-1,0A1,1,0,1,1,1,0Z","symbolSize":256,"symbolStrokeWidth":2,"labelFontSize":23,"labelFont":"Noto Sans CJK SC","labelColor":"#333","labelOffset":20,"labelLimit":400,"encode":{"symbols":{"update":{"fill":{"value":"#ffffff"},"fillOpacity":{"value":1},"strokeWidth":{"value":2}}}}}}}},
{"transform":[{"filter":"datum.d % 48 == 0 && (datum.s == '2024' || datum.s == '2014-2023均值')"}],"mark":{"type":"point","filled":false,"fill":"#ffffff","fillOpacity":1,"size":49,"strokeWidth":1.6,"opacity":1},"encoding":{"stroke":{"field":"s","type":"nominal","scale":{"domain":["2024","2014-2023均值"],"range":["#e01f26","#666666"]},"legend":{"title":null,"orient":"none","legendX":-24,"legendY":-21,"direction":"horizontal","columns":5,"gridAlign":"each","columnPadding":14,"rowPadding":15,"padding":0,"symbolType":"M-2.75,0L-1,0M1,0L2.75,0M1,0A1,1,0,1,1,-1,0A1,1,0,1,1,1,0Z","symbolSize":256,"symbolStrokeWidth":2,"symbolDash":[],"labelFontSize":23,"labelFont":"Noto Sans CJK SC","labelColor":"#333","labelOffset":20,"labelLimit":400,"encode":{"symbols":{"update":{"fill":{"value":"#ffffff"},"fillOpacity":{"value":1},"strokeWidth":{"value":2},"strokeDash":{"value":[]}}}}}}}}
]},
{"data":{"values":[{}]},"mark":{"type":"text","text":"【CTO】西北利润","align":"left","baseline":"middle","fontSize":31,"fontWeight":"bold","color":"#333"},"encoding":{"x":{"datum":-51,"type":"quantitative"},"y":{"datum":6705,"type":"quantitative"}}},
{"data":{"values":[{}]},"mark":{"type":"rule","strokeWidth":2,"color":"#aaaaaa"},"encoding":{"x":{"datum":-51,"type":"quantitative"},"x2":{"datum":382},"y":{"datum":6245,"type":"quantitative"}}},
{"data":{"values":[{}]},"mark":{"type":"rect","fill":"#ffffff","stroke":"#cccccc","strokeWidth":1},"encoding":{"x":{"datum":-54,"type":"quantitative"},"x2":{"datum":-4},"y":{"datum":800,"type":"quantitative"},"y2":{"datum":290}}},
{"data":{"values":[{}]},"mark":{"type":"text","text":"385.0","align":"right","baseline":"middle","fontSize":25,"color":"#dd2222"},"encoding":{"x":{"datum":-8,"type":"quantitative"},"y":{"datum":570,"type":"quantitative"}}}
]
}
